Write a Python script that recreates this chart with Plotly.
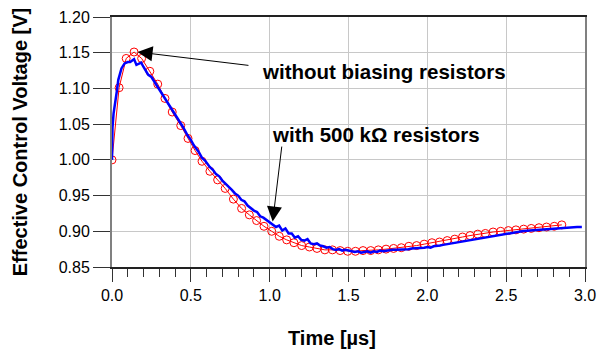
import plotly.graph_objects as go

# Red series: without biasing resistors (circles)
t_red = [0.000, 0.045, 0.090, 0.140, 0.188, 0.240, 0.290, 0.336, 0.382, 0.436,
         0.482, 0.527, 0.571, 0.621, 0.670, 0.718, 0.770, 0.822, 0.871, 0.917,
         0.964, 1.013, 1.061, 1.108, 1.154, 1.203, 1.252, 1.300, 1.350, 1.398,
         1.447, 1.495, 1.544, 1.592, 1.641, 1.689, 1.738, 1.786, 1.835, 1.883,
         1.932, 1.980, 2.029, 2.077, 2.126, 2.174, 2.223, 2.271, 2.320, 2.368,
         2.417, 2.465, 2.514, 2.562, 2.611, 2.659, 2.708, 2.756, 2.805, 2.853]
v_red = [1.000, 1.101, 1.142, 1.151, 1.142, 1.124, 1.106, 1.086, 1.067, 1.048,
         1.030, 1.013, 0.998, 0.984, 0.972, 0.960, 0.945, 0.932, 0.923, 0.915,
         0.907, 0.900, 0.893, 0.888, 0.884, 0.880, 0.878, 0.876, 0.874, 0.874,
         0.873, 0.872, 0.872, 0.873, 0.873, 0.874, 0.875, 0.876, 0.877, 0.879,
         0.880, 0.882, 0.884, 0.885, 0.887, 0.889, 0.892, 0.894, 0.896, 0.897,
         0.899, 0.900, 0.901, 0.902, 0.903, 0.904, 0.905, 0.906, 0.907, 0.909]

# Blue series: with 500 kOhm resistors
t_blue = [0.000, 0.003, 0.010, 0.020, 0.030, 0.040, 0.060, 0.080, 0.100, 0.115,
          0.130, 0.140, 0.155, 0.170, 0.185, 0.200, 0.215, 0.230, 0.250, 0.270,
          0.290, 0.300, 0.320, 0.340, 0.360, 0.380, 0.400, 0.420, 0.450, 0.480,
          0.500, 0.520, 0.550, 0.570, 0.590, 0.620, 0.640, 0.660, 0.680, 0.700,
          0.720, 0.740, 0.760, 0.780, 0.800, 0.820, 0.840, 0.860, 0.880, 0.900,
          0.920, 0.940, 0.960, 0.980, 1.000, 1.020, 1.040, 1.060, 1.080, 1.100,
          1.120, 1.140, 1.160, 1.180, 1.200, 1.220, 1.240, 1.260, 1.280, 1.300,
          1.320, 1.340, 1.360, 1.380, 1.400, 1.420, 1.440, 1.460, 1.480, 1.500,
          1.520, 1.540, 1.560, 1.580, 1.600, 1.620, 1.640, 1.660, 1.680, 1.700,
          1.720, 1.740, 1.760, 1.780, 1.800, 1.820, 1.840, 1.860, 1.880, 1.900,
          1.920, 1.940, 1.960, 1.980, 2.000, 2.020, 2.040, 2.060, 2.080, 2.100,
          2.150, 2.200, 2.250, 2.300, 2.350, 2.400, 2.450, 2.500, 2.550, 2.600,
          2.650, 2.700, 2.750, 2.800, 2.850, 2.900, 2.950, 2.980]
v_blue = [1.000, 1.045, 1.065, 1.078, 1.095, 1.112, 1.128, 1.135, 1.137, 1.137,
          1.139, 1.141, 1.133, 1.135, 1.136, 1.130, 1.124, 1.119, 1.116, 1.109,
          1.103, 1.100, 1.093, 1.085, 1.078, 1.071, 1.064, 1.057, 1.046, 1.034,
          1.028, 1.020, 1.011, 1.003, 0.999, 0.990, 0.986, 0.980, 0.977, 0.971,
          0.967, 0.962, 0.958, 0.953, 0.950, 0.944, 0.942, 0.936, 0.932, 0.929,
          0.927, 0.921, 0.919, 0.916, 0.912, 0.910, 0.906, 0.908, 0.901, 0.904,
          0.897, 0.897, 0.891, 0.893, 0.888, 0.887, 0.889, 0.883, 0.882, 0.883,
          0.880, 0.879, 0.877, 0.878, 0.875, 0.874, 0.875, 0.873, 0.874, 0.873,
          0.872, 0.871, 0.872, 0.870, 0.871, 0.872, 0.870, 0.872, 0.871, 0.873,
          0.872, 0.873, 0.873, 0.874, 0.874, 0.874, 0.875, 0.875, 0.875, 0.876,
          0.876, 0.877, 0.877, 0.877, 0.878, 0.877, 0.879, 0.879, 0.880, 0.881,
          0.883, 0.885, 0.887, 0.889, 0.891, 0.893, 0.895, 0.897, 0.898, 0.900,
          0.901, 0.902, 0.903, 0.904, 0.905, 0.905, 0.906, 0.906]

x_ticks = [0.0, 0.5, 1.0, 1.5, 2.0, 2.5, 3.0]
x_tick_labels = ["0.0", "0.5", "1.0", "1.5", "2.0", "2.5", "3.0"]
y_ticks = [0.85, 0.90, 0.95, 1.00, 1.05, 1.10, 1.15, 1.20]
y_tick_labels = ["0.85", "0.90", "0.95", "1.00", "1.05", "1.10", "1.15", "1.20"]

FONT = "Arial, Liberation Sans, sans-serif"

fig = go.Figure()
fig.add_trace(go.Scatter(
    x=t_red, y=v_red, mode="lines+markers",
    line=dict(color="#ff0000", width=1),
    marker=dict(symbol="circle-open", size=8, color="#ff0000", line=dict(width=1)),
    showlegend=False))
fig.add_trace(go.Scatter(
    x=t_blue, y=v_blue, mode="lines",
    line=dict(color="#0000ff", width=2.5),
    showlegend=False))

# text labels
fig.add_annotation(x=0.9385, y=1.1234, xref="x", yref="y", text="<b>without biasing resistors</b>",
                   showarrow=False, xanchor="left", yanchor="middle",
                   font=dict(family=FONT, size=20.5, color="black"))
fig.add_annotation(x=1.002, y=1.036, xref="x", yref="y", text="<b>with 500 kΩ resistors</b>",
                   showarrow=False, xanchor="left", yanchor="middle",
                   font=dict(family=FONT, size=20.5, color="black"))
# arrows
fig.add_annotation(x=0.162, y=1.151, ax=0.875, ay=1.132, xref="x", yref="y", axref="x", ayref="y",
                   text="", showarrow=True, arrowhead=2, arrowsize=3, arrowwidth=1,
                   arrowcolor="black", standoff=0)
fig.add_annotation(x=1.019, y=0.9136, ax=1.078, ay=1.0207, xref="x", yref="y", axref="x", ayref="y",
                   text="", showarrow=True, arrowhead=2, arrowsize=3, arrowwidth=1,
                   arrowcolor="black", standoff=0)
# x-axis title (placed like the reference, slightly left of centre)
fig.add_annotation(x=0.465, y=-0.284, xref="paper", yref="paper", text="<b>Time [µs]</b>",
                   showarrow=False, xanchor="center", yanchor="middle",
                   font=dict(family=FONT, size=20, color="black"))

fig.update_layout(
    width=598, height=352,
    margin=dict(l=112, r=13, t=17, b=85),
    paper_bgcolor="white", plot_bgcolor="white",
    font=dict(family=FONT, size=16, color="black"),
    xaxis=dict(
        range=[0, 3.0], tickmode="array", tickvals=x_ticks, ticktext=x_tick_labels,
        ticks="outside", ticklen=13, tickwidth=1, tickcolor="#333333",
        minor=dict(dtick=0.1, ticks="outside", ticklen=8, tickwidth=1, tickcolor="#333333", showgrid=False),
        showgrid=True, gridcolor="#c8c8c8", gridwidth=1,
        showline=True, linecolor="#222222", linewidth=1.5, mirror=True,
        zeroline=False,
        automargin=False),
    yaxis=dict(
        range=[0.85, 1.20], tickmode="array", tickvals=y_ticks, ticktext=y_tick_labels,
        ticks="outside", ticklen=17, tickwidth=1, tickcolor="#333333",
        showgrid=True, gridcolor="#c8c8c8", gridwidth=1,
        showline=True, linecolor="#808080", linewidth=2, mirror=True,
        zeroline=False,
        title=dict(text="<b>Effective Control Voltage [V]</b>", font=dict(size=20), standoff=26),
        automargin=False),
)

fig.write_html("out.html")
